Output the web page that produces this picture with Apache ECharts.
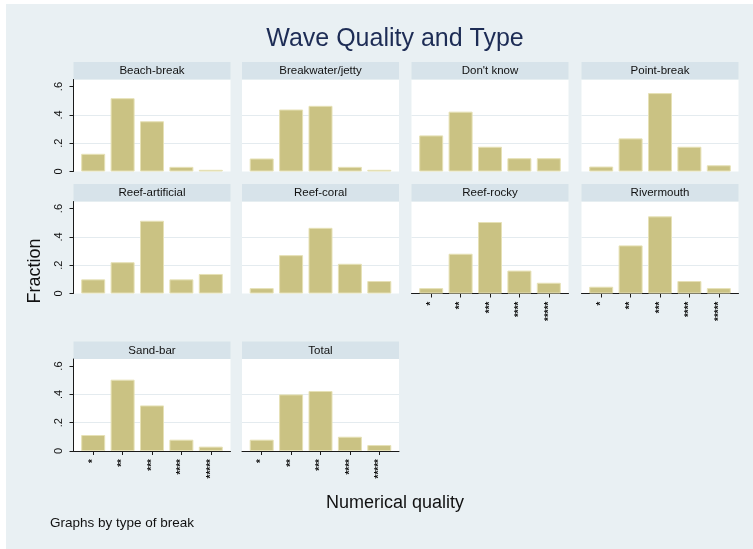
<!DOCTYPE html>
<html>
<head>
<meta charset="utf-8">
<script src="https://cdn.jsdelivr.net/npm/echarts@6/dist/echarts.min.js"></script>
<style>
html,body{margin:0;padding:0;background:#e9f0f3;overflow:hidden;}
#c{width:753px;height:549px;}
</style>
</head>
<body>
<div id="c"></div>
<script>
// ---- data ----
const categories = ['*', '**', '***', '****', '*****'];
const panelNames = ['Beach-break', 'Breakwater/jetty', "Don't know", 'Point-break',
  'Reef-artificial', 'Reef-coral', 'Reef-rocky', 'Rivermouth', 'Sand-bar', 'Total'];
const beachBreak     = [0.125, 0.518, 0.355, 0.033, 0.012];
const breakwater     = [0.092, 0.438, 0.464, 0.033, 0.012];
const dontKnow       = [0.255, 0.423, 0.175, 0.094, 0.094];
const pointBreak     = [0.035, 0.234, 0.554, 0.175, 0.044];
const reefArtificial = [0.100, 0.221, 0.514, 0.100, 0.138];
const reefCoral      = [0.038, 0.271, 0.464, 0.210, 0.088];
const reefRocky      = [0.038, 0.281, 0.505, 0.162, 0.076];
const rivermouth     = [0.048, 0.340, 0.545, 0.088, 0.038];
const sandBar        = [0.113, 0.504, 0.322, 0.080, 0.031];
const total          = [0.080, 0.400, 0.424, 0.101, 0.042];
const yTickValues = [0, 0.2, 0.4, 0.6];
const yTickLabels = ['0', '.2', '.4', '.6'];
const xTickValues = [1, 2, 3, 4, 5];

const panelData = [beachBreak, breakwater, dontKnow, pointBreak, reefArtificial,
  reefCoral, reefRocky, rivermouth, sandBar, total];

// ---- layout ----
const FONT = "'Liberation Sans', Arial, Helvetica, sans-serif";
const BG = '#e9f0f3';
const STRIP = '#d7e3ea';
const BAR = '#cac283';
const BAR_EDGE = '#e6e1b6';
const GRIDLINE = '#e4ebef';
const AXIS = '#1a1a1a';
const colLeft = [73.5, 242, 411.5, 581.5];
const rowTop = [62, 184, 341.5];
const panelW = 157, headerH = 17.5, plotH = 92;
const xAxisPanels = [6, 7, 8, 9];

const grids = [], xAxes = [], yAxes = [], series = [];
const graphics = [
  { type: 'rect', shape: { x: 0, y: 0, width: 753, height: 4 }, style: { fill: '#fff' }, silent: true },
  { type: 'rect', shape: { x: 0, y: 0, width: 6, height: 549 }, style: { fill: '#fff' }, silent: true },
  { type: 'text', x: 395, y: 27, style: { text: 'Wave Quality and Type', font: '25px ' + FONT, fill: '#1d2c55', textAlign: 'center', textVerticalAlign: 'top' }, silent: true },
  { type: 'text', x: 395, y: 503, style: { text: 'Numerical quality', font: '18px ' + FONT, fill: '#111', textAlign: 'center', textVerticalAlign: 'middle' }, silent: true },
  { type: 'text', x: 50, y: 523, style: { text: 'Graphs by type of break', font: '13.5px ' + FONT, fill: '#111', textAlign: 'left', textVerticalAlign: 'middle' }, silent: true },
  { type: 'text', x: 35, y: 271, rotation: Math.PI / 2, style: { text: 'Fraction', font: '18px ' + FONT, fill: '#111', textAlign: 'center', textVerticalAlign: 'middle' }, silent: true }
];

panelData.forEach((vals, i) => {
  const row = Math.floor(i / 4), col = i % 4;
  const left = colLeft[col], top = rowTop[row];
  const showY = col === 0;
  const showX = xAxisPanels.indexOf(i) >= 0;
  graphics.push({ type: 'rect', shape: { x: left, y: top, width: panelW, height: headerH }, style: { fill: STRIP }, silent: true });
  graphics.push({ type: 'text', x: left + panelW / 2, y: top + headerH / 2 + 0.5, style: { text: panelNames[i], font: '11.5px ' + FONT, fill: '#111', textAlign: 'center', textVerticalAlign: 'middle' }, silent: true });
  grids.push({ left: left, top: top + headerH, width: panelW, height: plotH, show: true, backgroundColor: '#fff', borderWidth: 0, containLabel: false });
  xAxes.push({
    gridIndex: i, type: 'value', min: 0.33, max: 5.67,
    axisLine: { show: showX, onZero: false, lineStyle: { color: AXIS, width: 1 } },
    axisTick: { show: showX, length: 4, customValues: xTickValues, lineStyle: { color: AXIS, width: 1 } },
    axisLabel: { show: showX, customValues: xTickValues, rotate: 90, margin: 8, fontSize: 10, fontWeight: 'bold', fontFamily: FONT, color: '#111',
      formatter: v => categories[Math.round(v) - 1] || '' },
    splitLine: { show: false }
  });
  yAxes.push({
    gridIndex: i, type: 'value', min: 0, max: 0.65, interval: 0.2,
    axisLine: { show: showY, lineStyle: { color: AXIS, width: 1 } },
    axisTick: { show: showY, length: 4, customValues: yTickValues, lineStyle: { color: AXIS, width: 1 } },
    axisLabel: { show: showY, customValues: yTickValues, rotate: 90, margin: 9, fontSize: 11, fontFamily: FONT, color: '#111',
      formatter: v => { const k = yTickValues.findIndex(t => Math.abs(t - v) < 1e-6); return k >= 0 ? yTickLabels[k] : ''; } },
    splitLine: { show: true, showMinLine: false, showMaxLine: false, lineStyle: { color: GRIDLINE, width: 1 } }
  });
  series.push({
    type: 'bar', xAxisIndex: i, yAxisIndex: i, barWidth: 24, silent: true,
    data: vals.map((v, k) => [xTickValues[k], v]),
    itemStyle: { color: BAR, borderColor: BAR_EDGE, borderWidth: 1 }
  });
});

const chart = echarts.init(document.getElementById('c'), null, { renderer: 'canvas' });
chart.setOption({
  animation: false,
  backgroundColor: BG,
  grid: grids,
  xAxis: xAxes,
  yAxis: yAxes,
  series: series,
  graphic: { elements: graphics }
});
</script>
</body>
</html>
